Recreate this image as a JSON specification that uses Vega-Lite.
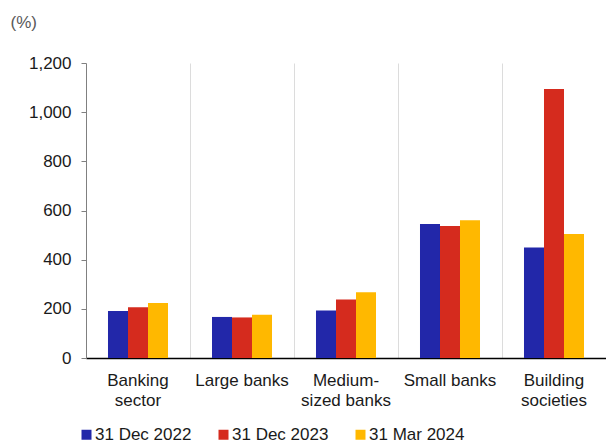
{
  "$schema": "https://vega.github.io/schema/vega-lite/v6.json",
  "width": 520,
  "height": 295,
  "autosize": {"type": "none"},
  "padding": {"left": 86, "top": 63, "right": 0, "bottom": 85},
  "background": "white",
  "config": {
    "view": {"stroke": null},
    "font": "Liberation Sans"
  },
  "data": {
    "values": [
      {"group": "Banking sector", "date": "31 Dec 2022", "value": 191},
      {"group": "Banking sector", "date": "31 Dec 2023", "value": 206},
      {"group": "Banking sector", "date": "31 Mar 2024", "value": 224},
      {"group": "Large banks", "date": "31 Dec 2022", "value": 167},
      {"group": "Large banks", "date": "31 Dec 2023", "value": 165},
      {"group": "Large banks", "date": "31 Mar 2024", "value": 176},
      {"group": "Medium-sized banks", "date": "31 Dec 2022", "value": 193},
      {"group": "Medium-sized banks", "date": "31 Dec 2023", "value": 238},
      {"group": "Medium-sized banks", "date": "31 Mar 2024", "value": 267},
      {"group": "Small banks", "date": "31 Dec 2022", "value": 545},
      {"group": "Small banks", "date": "31 Dec 2023", "value": 537},
      {"group": "Small banks", "date": "31 Mar 2024", "value": 560},
      {"group": "Building societies", "date": "31 Dec 2022", "value": 450},
      {"group": "Building societies", "date": "31 Dec 2023", "value": 1094},
      {"group": "Building societies", "date": "31 Mar 2024", "value": 504}
    ]
  },
  "layer": [
    {
      "mark": {"type": "bar", "opacity": 0},
      "encoding": {
        "x": {
          "field": "group",
          "type": "nominal",
          "sort": ["Banking sector", "Large banks", "Medium-sized banks", "Small banks", "Building societies"],
          "scale": {"paddingInner": 0.423, "paddingOuter": 0.2115},
          "axis": {
            "orient": "top",
            "title": null,
            "labels": false,
            "ticks": false,
            "domain": false,
            "grid": true,
            "gridColor": "#dcdcdc",
            "gridWidth": 1,
            "bandPosition": 1.3667,
            "values": ["Banking sector", "Large banks", "Medium-sized banks", "Small banks"]
          }
        },
        "xOffset": {
          "field": "date",
          "type": "nominal",
          "sort": ["31 Dec 2022", "31 Dec 2023", "31 Mar 2024"],
          "scale": {"paddingInner": 0, "paddingOuter": 0}
        },
        "y": {"field": "value", "type": "quantitative", "axis": null}
      }
    },
    {
      "mark": {"type": "bar"},
      "encoding": {
        "x": {
          "field": "group",
          "type": "nominal",
          "sort": ["Banking sector", "Large banks", "Medium-sized banks", "Small banks", "Building societies"],
          "scale": {"paddingInner": 0.423, "paddingOuter": 0.2115},
          "axis": {
            "title": null,
            "labelAngle": 0,
            "labelFontSize": 17,
            "labelColor": "#1a1a1a",
            "labelPadding": 14,
            "labelLineHeight": 20,
            "ticks": false,
            "grid": false,
            "domainColor": "#000000",
            "domainWidth": 1.5,
            "labelExpr": "datum.label == 'Banking sector' ? ['Banking', 'sector'] : datum.label == 'Medium-sized banks' ? ['Medium-', 'sized banks'] : datum.label == 'Building societies' ? ['Building', 'societies'] : datum.label"
          }
        },
        "xOffset": {
          "field": "date",
          "type": "nominal",
          "sort": ["31 Dec 2022", "31 Dec 2023", "31 Mar 2024"],
          "scale": {"paddingInner": 0, "paddingOuter": 0}
        },
        "y": {
          "field": "value",
          "type": "quantitative",
          "scale": {"domain": [0, 1200]},
          "axis": {
            "title": "(%)",
            "titleAngle": 0,
            "titleX": -76,
            "titleY": -41,
            "titleAlign": "left",
            "titleBaseline": "middle",
            "titleFontSize": 17,
            "titleFontWeight": "normal",
            "titleColor": "#595959",
            "values": [0, 200, 400, 600, 800, 1000, 1200],
            "format": ",d",
            "labelFontSize": 17,
            "labelColor": "#1a1a1a",
            "labelPadding": 10,
            "tickSize": 5,
            "tickColor": "#808080",
            "domainColor": "#808080",
            "gridColor": "#dcdcdc"
          }
        },
        "color": {
          "field": "date",
          "type": "nominal",
          "sort": ["31 Dec 2022", "31 Dec 2023", "31 Mar 2024"],
          "scale": {"range": ["#2227A9", "#D52B1E", "#FFB800"]},
          "legend": {
            "orient": "none",
            "legendX": -8,
            "legendY": 363,
            "direction": "horizontal",
            "title": null,
            "symbolType": "square",
            "symbolSize": 100,
            "symbolStrokeWidth": 0,
            "labelFontSize": 17,
            "labelColor": "#1a1a1a",
            "labelOffset": 0,
            "columnPadding": 23
          }
        }
      }
    }
  ],
  "resolve": {"axis": {"x": "independent", "y": "independent"}}
}
